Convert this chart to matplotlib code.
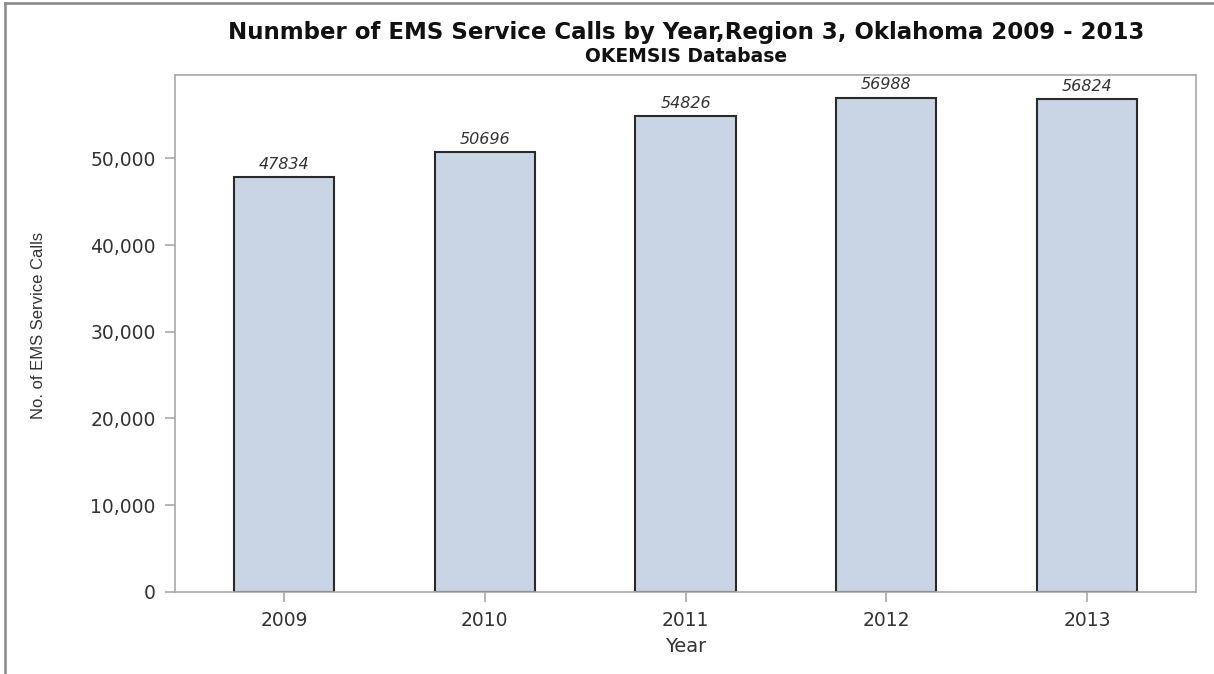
import numpy as np
import matplotlib.pyplot as plt
from matplotlib.lines import Line2D
from matplotlib.ticker import FuncFormatter

years = ["2009", "2010", "2011", "2012", "2013"]
calls = [47834, 50696, 54826, 56988, 56824]
yticks = [0, 10000, 20000, 30000, 40000, 50000]

fig = plt.figure(figsize=(12.14, 6.74), dpi=100, facecolor="w")
ax = fig.add_axes([0.1442, 0.1217, 0.841, 0.767])

x = np.arange(len(years))
ax.bar(x, calls, width=0.5, color="#c9d5e5", edgecolor="#2a2a2a", linewidth=1.5)
for xi, v in zip(x, calls):
    ax.text(xi, v + 600, str(v), ha="center", va="bottom", fontsize=11.5,
            style="italic", color="#333333", family="DejaVu Sans")

ax.set_xlim(-0.543, 4.543)
ax.set_ylim(0, 59600)
ax.set_xticks(x)
ax.set_xticklabels(years)
ax.set_yticks(yticks)
ax.yaxis.set_major_formatter(FuncFormatter(lambda v, p: f"{int(v):,}"))

for s in ax.spines.values():
    s.set_color("#a8a8a8")
    s.set_linewidth(1.2)
ax.tick_params(axis="both", direction="out", length=7, width=1.2, color="#a8a8a8",
               labelsize=13.5, labelcolor="#333333", pad=7)
for lab in ax.get_xticklabels() + ax.get_yticklabels():
    lab.set_family("DejaVu Sans")

ax.set_xlabel("Year", fontsize=14, color="#333333", family="DejaVu Sans", labelpad=5)
ax.set_ylabel("No. of EMS Service Calls", fontsize=12, color="#333333",
              family="Liberation Sans")
ax.yaxis.set_label_coords(-0.126, 0.516)

fig.text(0.565, 0.942, "Nunmber of EMS Service Calls by Year,Region 3, Oklahoma 2009 - 2013",
         ha="center", va="baseline", fontsize=16.5, fontweight="bold", family="DejaVu Sans",
         color="#111111")
fig.text(0.565, 0.908, "OKEMSIS Database", ha="center", va="baseline", fontsize=13.5,
         fontweight="bold", family="DejaVu Sans", color="#111111")

# outer frame (top and left only visible)
fig.add_artist(Line2D([0.004, 0.004], [0, 0.996], transform=fig.transFigure,
                      color="#888888", linewidth=1.8))
fig.add_artist(Line2D([0.004, 1.0], [0.996, 0.996], transform=fig.transFigure,
                      color="#888888", linewidth=1.8))

fig.savefig("out.png", dpi=100)
